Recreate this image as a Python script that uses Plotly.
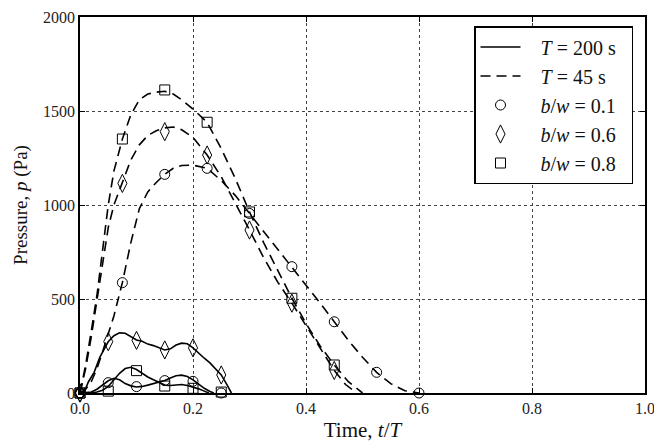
import plotly.graph_objects as go

# ---------------- data ----------------
# T = 45 s (dashed)
t45_08 = [0, 0.01, 0.02, 0.03, 0.04, 0.05, 0.06, 0.075, 0.09, 0.105, 0.12, 0.135, 0.15, 0.165, 0.18, 0.2,
          0.225, 0.25, 0.275, 0.3, 0.325, 0.35, 0.375, 0.4, 0.425, 0.45, 0.475, 0.5]
p45_08 = [0, 150, 330, 520, 760, 1000, 1180, 1351, 1480, 1560, 1590, 1600, 1605, 1590, 1560, 1510,
          1440, 1300, 1140, 963, 800, 650, 504, 370, 250, 149, 60, 0]

t45_06 = [0, 0.01, 0.02, 0.03, 0.04, 0.05, 0.06, 0.075, 0.09, 0.105, 0.12, 0.135, 0.15, 0.165, 0.18, 0.2,
          0.225, 0.25, 0.275, 0.3, 0.325, 0.35, 0.375, 0.4, 0.425, 0.45, 0.47, 0.49]
p45_06 = [0, 130, 300, 500, 700, 880, 1000, 1115, 1240, 1320, 1370, 1395, 1410, 1415, 1400, 1360,
          1266, 1150, 1010, 867, 720, 590, 478, 360, 240, 120, 45, 0]

t45_01 = [0, 0.01, 0.02, 0.03, 0.04, 0.05, 0.06, 0.075, 0.09, 0.105, 0.12, 0.135, 0.15, 0.165, 0.18, 0.2,
          0.225, 0.25, 0.275, 0.3, 0.325, 0.35, 0.375, 0.4, 0.425, 0.45, 0.475, 0.5, 0.525, 0.55, 0.575, 0.6]
p45_01 = [0, 20, 60, 130, 220, 310, 410, 587, 800, 980, 1070, 1120, 1163, 1195, 1210, 1212,
          1195, 1130, 1050, 955, 860, 765, 672, 575, 478, 379, 280, 190, 110, 50, 12, 0]

# T = 200 s (solid)
t200_06 = [0, 0.008, 0.015, 0.025, 0.035, 0.05, 0.06, 0.07, 0.08, 0.09, 0.1, 0.11, 0.12, 0.13, 0.14, 0.15,
           0.16, 0.17, 0.18, 0.19, 0.2, 0.21, 0.22, 0.23, 0.24, 0.25, 0.26, 0.268]
p200_06 = [0, 10, 60, 110, 190, 273, 305, 320, 318, 300, 282, 275, 260, 252, 240, 229,
           235, 255, 265, 262, 240, 210, 185, 160, 130, 96, 45, 0]

t200_08 = [0, 0.02, 0.03, 0.04, 0.05, 0.06, 0.07, 0.08, 0.09, 0.1, 0.11, 0.12, 0.13, 0.14, 0.15, 0.16,
           0.17, 0.18, 0.19, 0.2, 0.21, 0.22, 0.228]
p200_08 = [0, 0, 5, 15, 35, 70, 105, 130, 137, 125, 105, 85, 70, 55, 42, 40,
           43, 45, 40, 33, 22, 10, 0]

t200_01 = [0, 0.02, 0.03, 0.04, 0.05, 0.06, 0.07, 0.08, 0.09, 0.1, 0.11, 0.12, 0.13, 0.14, 0.15, 0.16,
           0.17, 0.18, 0.19, 0.2, 0.21, 0.22, 0.23, 0.237]
p200_01 = [0, 5, 20, 45, 65, 78, 70, 50, 38, 32, 35, 42, 50, 58, 66, 80,
           92, 95, 88, 70, 45, 25, 8, 0]

# marker samples
tm45 = [0, 0.075, 0.15, 0.225, 0.3, 0.375, 0.45]
pm45_08 = [0, 1351, 1612, 1440, 963, 504, 149]
pm45_06 = [0, 1115, 1390, 1266, 867, 478, 120]
tm45_01 = [0, 0.075, 0.15, 0.225, 0.3, 0.375, 0.45, 0.525, 0.6]
pm45_01 = [0, 587, 1163, 1195, 955, 672, 379, 110, 0]

tm200 = [0, 0.05, 0.1, 0.15, 0.2, 0.25]
pm200_06 = [0, 273, 280, 229, 240, 96]
pm200_08 = [0, 10, 119, 37, 25, 5]
pm200_01 = [0, 55, 34, 66, 62, 0]

x_ticks = [0.0, 0.2, 0.4, 0.6, 0.8, 1.0]
y_ticks = [0, 500, 1000, 1500, 2000]

legend_names = ["<i>T</i> = 200 s", "<i>T</i> = 45 s",
                "<i>b</i>/<i>w</i> = 0.1", "<i>b</i>/<i>w</i> = 0.6", "<i>b</i>/<i>w</i> = 0.8"]

# ---------------- figure ----------------
fig = go.Figure()
DASH = "10px,6px"
LW = 1.6

for t, p in [(t45_01, p45_01), (t45_06, p45_06), (t45_08, p45_08)]:
    fig.add_trace(go.Scatter(x=t, y=p, mode="lines", showlegend=False,
                             line=dict(color="black", width=LW, dash=DASH), hoverinfo="skip"))
for t, p in [(t200_01, p200_01), (t200_06, p200_06), (t200_08, p200_08)]:
    fig.add_trace(go.Scatter(x=t, y=p, mode="lines", showlegend=False,
                             line=dict(color="black", width=LW), hoverinfo="skip"))

sym = {"c": ("circle-open", 10), "d": ("diamond-tall-open", 13), "s": ("square-open", 10)}
for t, p, s in [(tm45_01, pm45_01, "c"), (tm45, pm45_06, "d"), (tm45, pm45_08, "s"),
                (tm200, pm200_01, "c"), (tm200, pm200_06, "d"), (tm200, pm200_08, "s")]:
    fig.add_trace(go.Scatter(x=t, y=p, mode="markers", showlegend=False, cliponaxis=False,
                             marker=dict(symbol=sym[s][0], size=sym[s][1], color="black",
                                         line=dict(color="black", width=1))))

# legend entries
pad = "&nbsp;&nbsp;&nbsp;"
tail = "&nbsp;&nbsp;"
fig.add_trace(go.Scatter(x=[None], y=[None], mode="lines", name=pad + legend_names[0] + tail,
                         line=dict(color="black", width=LW)))
fig.add_trace(go.Scatter(x=[None], y=[None], mode="lines", name=pad + legend_names[1] + tail,
                         line=dict(color="black", width=LW, dash=DASH)))
for name, s in zip(legend_names[2:], ["c", "d", "s"]):
    fig.add_trace(go.Scatter(x=[None], y=[None], mode="markers", name=pad + name + tail,
                             marker=dict(symbol=sym[s][0], size=sym[s][1], color="black",
                                         line=dict(color="black", width=1))))

FONT = "Liberation Serif, DejaVu Serif, serif"
axis_common = dict(showline=True, linecolor="black", linewidth=1.5, mirror="ticks",
                   ticks="inside", ticklen=5, tickcolor="black", tickwidth=1,
                   showgrid=True, gridcolor="#444", griddash="dot", gridwidth=1,
                   zeroline=False, automargin=False, ticklabeloverflow="allow",
                   tickfont=dict(size=16, color="#222"))

fig.update_layout(
    width=654, height=445,
    margin=dict(l=80, r=9, t=17, b=52),
    paper_bgcolor="white", plot_bgcolor="white",
    font=dict(family=FONT, color="#111"),
    xaxis=dict(range=[0, 1], tickvals=x_ticks, ticktext=[f"{v:.1f}" for v in x_ticks],
               title=dict(text="Time, <i>t</i>/<i>T</i>", font=dict(size=21), standoff=6),
               **axis_common),
    yaxis=dict(range=[0, 2000], tickvals=y_ticks, ticktext=[str(v) for v in y_ticks],
               title=dict(text="Pressure, <i>p</i> (Pa)", font=dict(size=19), standoff=10),
               **axis_common),
    legend=dict(x=(474 - 80) / 565, y=(393 - 26) / 376, xanchor="left", yanchor="top",
                bgcolor="white", bordercolor="black", borderwidth=1.5,
                font=dict(size=20), itemwidth=40, tracegroupgap=0),
    showlegend=True,
)

fig.write_html("out.html")
